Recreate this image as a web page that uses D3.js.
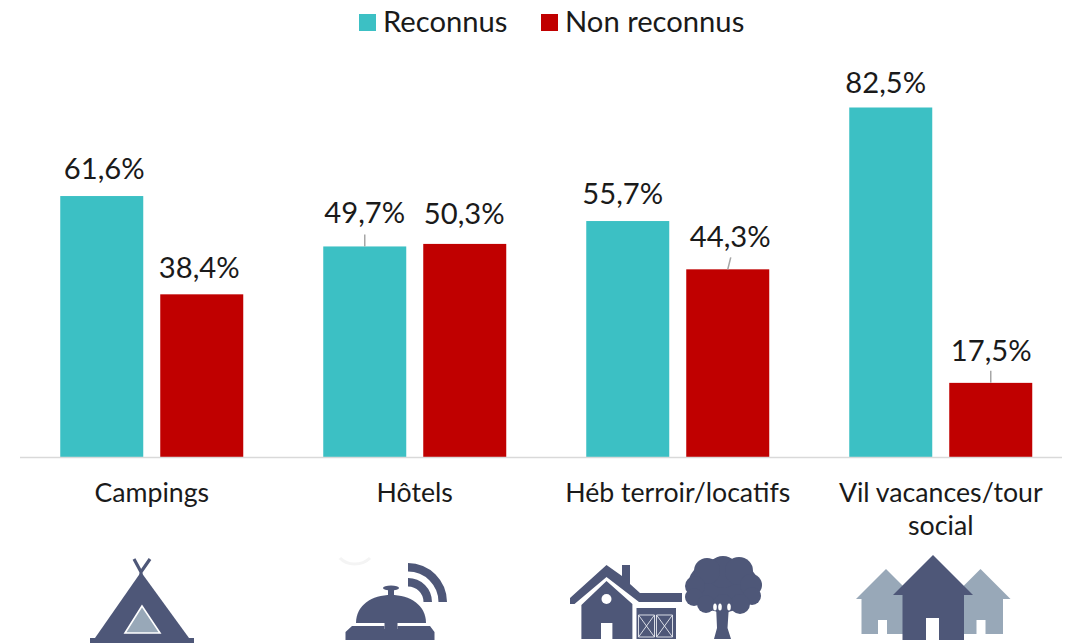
<!DOCTYPE html>
<html><head><meta charset="utf-8">
<script src="https://cdn.jsdelivr.net/npm/d3@7/dist/d3.min.js"></script>
<style>html,body{margin:0;padding:0;background:#fff}svg{display:block}text{font-family:Lato,sans-serif;fill:#1a1a1a}</style>
</head><body><svg id="c" width="1077" height="643"></svg>
<script>
const categories = ["Campings","Hôtels","Héb terroir/locatifs","Vil vacances/tour social"];
const seriesNames = ["Reconnus","Non reconnus"];
const reconnus = [61.6,49.7,55.7,82.5];
const nonReconnus = [38.4,50.3,44.3,17.5];
const colors = ["#3cc0c4","#c00000"];
const fmt = v => v.toFixed(1).replace(".",",")+"%";

const svg = d3.select("#c");
const baseY = 457;
const x0 = d3.scaleBand().domain(categories).range([20.25,1072.25]);
const y = d3.scaleLinear().domain([0,82.5]).range([baseY,107.5]);
const BW = 83, GAP = 17;
const barX = (c,s) => x0(c)+x0.bandwidth()/2 + (s===0 ? -GAP/2-BW : GAP/2);

const series = [reconnus,nonReconnus];
// label placement relative to bar-top centre: dx, baseline offset, leader (dx1,dx2,len)
const nudge = [
 [[2.5,-17.5,null],[-2.5,-16.5,null]],
 [[0,-23,[0,0,12]],[-0.5,-20,null]],
 [[-5,-17.5,null],[2.5,-22,[3,0,12]]],
 [[-5,-14.5,null],[0.5,-21.5,[0,0,12]]]
];
series.forEach((vals,s)=>{
  const g = svg.append("g");
  g.selectAll("rect").data(vals).join("rect")
    .attr("x",(d,i)=>barX(categories[i],s)).attr("width",BW)
    .attr("y",d=>y(d)).attr("height",d=>baseY-y(d)).attr("fill",colors[s]);
  g.selectAll("text").data(vals).join("text")
    .attr("x",(d,i)=>barX(categories[i],s)+BW/2+nudge[i][s][0])
    .attr("y",(d,i)=>y(d)+nudge[i][s][1])
    .attr("text-anchor","middle").attr("font-size",29.2).text(fmt);
  g.selectAll("line").data(vals.map((v,i)=>({v,i})).filter(d=>nudge[d.i][s][2])).join("line")
    .attr("x1",d=>barX(categories[d.i],s)+BW/2+nudge[d.i][s][2][0])
    .attr("x2",d=>barX(categories[d.i],s)+BW/2+nudge[d.i][s][2][1])
    .attr("y1",d=>y(d.v)-nudge[d.i][s][2][2]).attr("y2",d=>y(d.v))
    .attr("stroke","#a6a6a6").attr("stroke-width",1.5);
});

// axis
const ax = svg.append("g").attr("transform",`translate(0,${baseY+0.5})`).call(d3.axisBottom(x0).tickSize(0).tickFormat(""));
ax.select(".domain").attr("stroke","#d9d9d9").attr("stroke-width",1.5).attr("d","M20,0H1062");
const wrap = {"Vil vacances/tour social":["Vil vacances/tour","social"]};
categories.forEach(c=>{
  (wrap[c]||[c]).forEach((t,i)=>svg.append("text").attr("x",x0(c)+x0.bandwidth()/2).attr("y",502+i*33)
    .attr("text-anchor","middle").attr("font-size",26.7).text(t));
});

// legend
const leg = [[359,383],[541,565]];
seriesNames.forEach((n,i)=>{
  svg.append("rect").attr("x",leg[i][0]).attr("y",14).attr("width",17).attr("height",17).attr("fill",colors[i]);
  svg.append("text").attr("x",leg[i][1]).attr("y",31.5).attr("font-size",29.2).text(n);
});

// pictograms
const ink="#4e5778", pale="#98a8b8";
const ic = svg.append("g");
const P=(d,f)=>ic.append("path").attr("d",d).attr("fill",f||ink);
// tent
P("M95,638L141,572L189,638Z");
ic.append("rect").attr("x",90).attr("y",638).attr("width",104).attr("height",5).attr("fill",ink);
ic.append("path").attr("d","M134,559L141,572L150,559M141,572L141,576").attr("fill","none").attr("stroke",ink).attr("stroke-width",3.2);
P("M142,606L125,633L160,633Z",pale).attr("stroke","#fff").attr("stroke-width",1.6);
// bell
P("M356,623C356,605 372,595 391,595C410,595 426,605 426,623Z");
ic.append("rect").attr("x",384.5).attr("y",623).attr("width",13).attr("height",6).attr("fill",ink);
P("M352,626H384.5V629H397.5V626H430L434.5,632V640H345.5V632Z");
ic.append("ellipse").attr("cx",391).attr("cy",588).attr("rx",8).attr("ry",2.6).attr("fill",ink);
ic.append("rect").attr("x",388).attr("y",589).attr("width",6).attr("height",6).attr("fill",ink);
const arc=d3.arc().startAngle(0).endAngle(Math.PI/2);
[[30.5,39],[15.5,24]].forEach(r=>ic.append("path").attr("transform","translate(408,602)").attr("d",arc({innerRadius:r[0],outerRadius:r[1]})).attr("fill",ink));
ic.append("path").attr("d","M340,558C347,566 362,566 370,558").attr("fill","none").attr("stroke","#f4f4f4").attr("stroke-width",3);
// farmhouse
P("M570,598L606.5,565L622,576V565H630V584L640,593H682V602H639L606.5,577L574.5,604H570Z");
P("M581.4,605L606.5,581L632.4,604V639H612.4V623H601V639H581.4Z");
ic.append("circle").attr("cx",606.5).attr("cy",599).attr("r",5).attr("fill","#fff");
ic.append("rect").attr("x",636.5).attr("y",608).attr("width",39.5).attr("height",31).attr("fill",ink);
[[638.5,16],[656.5,16]].forEach(w=>{
  const x=w[0],W=w[1];
  ic.append("path").attr("d",`M${x},615H${x+W}V637H${x}ZL${x+W},637M${x+W},615L${x},637`).attr("fill",ink).attr("stroke","#e8eaf0").attr("stroke-width",0.9);
});
// tree
ic.append("ellipse").attr("cx",723).attr("cy",585).attr("rx",35).attr("ry",27).attr("fill",ink);
[[723,572,16],[707,571,13],[739,571,14],[695,586,10],[751,585,11],[752,596,9],[694,597,9],[706,604,9],[740,604,10],[723,604,10]]
 .forEach(c=>ic.append("circle").attr("cx",c[0]).attr("cy",c[1]).attr("r",c[2]).attr("fill",ink));
P("M716,605H729L727.5,628L731,639H714L717,628Z");
[[715,607],[720,607],[729,607]].forEach(c=>ic.append("ellipse").attr("cx",c[0]).attr("cy",c[1]).attr("rx",1.8).attr("ry",3.5).attr("fill","#fff"));
// village
const house=(ax,el,er,bl,br,top,bot,dl,dr,dt,f)=>{
  P(`M${ax},${top}L${er},${top+(er-ax)}H${br}V${bot}H${bl}V${top+(ax-el)}H${el}Z`,f);
  ic.append("rect").attr("x",dl).attr("y",dt).attr("width",dr-dl).attr("height",bot-dt).attr("fill","#fff");
};
house(886,856,917,861.5,912,569,634,878,887,620,pale);
house(980.5,950,1010.5,958,1003,569,634,976.5,985.5,620,pale);
house(933,893,973,902.5,964,555,640,926,939,618,ink);
</script></body></html>
